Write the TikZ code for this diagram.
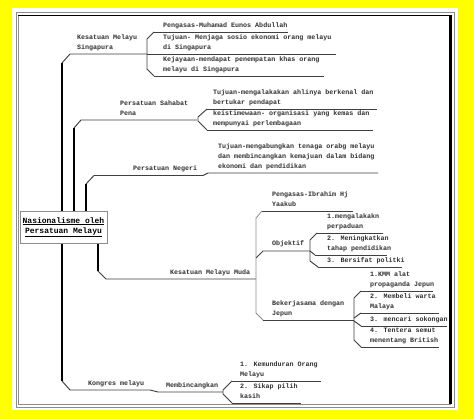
\documentclass[tikz,border=0pt]{standalone}
\usepackage{fontspec}
\newfontfamily\monof{Liberation Mono}
\newcommand\tfont{\monof\bfseries\fontsize{6.67}{10}\selectfont}
\newcommand\cfont{\monof\bfseries\fontsize{8}{10}\selectfont}
\definecolor{bgyellow}{HTML}{FFFF00}
\definecolor{linec}{HTML}{404040}
\definecolor{subc}{HTML}{8C8C8C}
\definecolor{textc}{HTML}{303030}
\tikzset{
  txt/.style={inner sep=0pt, anchor=south west, align=left, font=\tfont, text=textc, execute at end node=\strut},
  trunk/.style={line width=2.6pt, black},
  br/.style={line width=0.95pt, color=linec, line join=round},
  sub/.style={line width=0.8pt, color=subc},
  central/.style={draw=subc, line width=0.8pt, fill=white, font=\cfont, align=center, inner sep=0pt, minimum width=87pt, minimum height=32pt}
}
\begin{document}
\begin{tikzpicture}[x=1pt,y=-1pt]
\useasboundingbox (0,0) rectangle (474,419);
% frame
\fill[bgyellow] (0,0) rectangle (474,419);
\fill[white] (12,8) rectangle (458,410);
\draw[subc, line width=0.6pt] (16,12) rectangle (454,407);
\fill[white] (18,15) rectangle (451,404);
\draw[subc, line width=0.8pt] (18,15) -- (18,404) -- (451,404);
\draw[black, line width=1.6pt] (18,15.5) -- (451,15.5);
\draw[black, line width=3pt] (450.5,15) -- (450.5,404);

% branch 1: Kesatuan Melayu Singapura
\draw[trunk] (62,212) -- (62,63);
\draw[br] (62,63) -- (70,54) -- (147,54);
\draw[br] (154,32) -- (147,39) -- (147,69) -- (154,76);
\draw[br] (154,32) -- (288,32);
\draw[br] (147,54) -- (336,54);
\draw[br] (154,76) -- (324,76);
\node[txt] (k1) at (77,53) {Kesatuan Melayu\\Singapura};
\node[txt] (k1a) at (163,31) {Pengasas-Muhamad Eunos Abdullah};
\node[txt] (k1b) at (163,53) {Tujuan- Menjaga sosio ekonomi orang melayu\\di Singapura};
\node[txt] (k1c) at (163,75) {Kejayaan-mendapat penempatan khas orang\\melayu di Singapura};

% branch 2: Persatuan Sahabat Pena
\draw[trunk] (74,212) -- (74,128);
\draw[br] (74,128) -- (81,120) -- (197,120);
\draw[br] (207,109) -- (198,117) -- (198,121) -- (207,130);
\draw[br] (207,109) -- (377,109);
\draw[br] (207,130) -- (373,130);
\node[txt] (k2) at (120,119) {Persatuan Sahabat\\Pena};
\node[txt] (k2a) at (213,108) {Tujuan-mengalakakan ahlinya berkenal dan\\bertukar pendapat};
\node[txt] (k2b) at (213,129) {keistimewaan- organisasi yang kemas dan\\mempunyai perlembagaan};

% branch 3: Persatuan Negeri
\draw[trunk] (86,212) -- (86,184);
\draw[br] (86,184) -- (94,175.5) -- (203,175.5) -- (208,173) -- (378,173);
\node[txt] (k3) at (133,174) {Persatuan Negeri};
\node[txt] (k3a) at (218,172) {Tujuan-mengabungkan tenaga orabg melayu\\dan membincangkan kemajuan dalam bidang\\ekonomi dan pendidikan};

% branch 4: Kesatuan Melayu Muda
\draw[trunk] (98,242) -- (98,271);
\draw[br] (98,271) -- (106,279) -- (256,279);
\draw[sub] (262,211) -- (256,218) -- (256,313) -- (263,320);
\draw[br] (262,211) -- (353,211);
\draw[br] (256,258) -- (263,251) -- (310,251);
\draw[br] (263,320) -- (354,320);
\node[txt] (k4) at (170,278) {Kesatuan Melayu Muda};
\node[txt] (k4a) at (272,210) {Pengasas-Ibrahim Hj\\Yaakub};
\node[txt] (k4b) at (272,249) {Objektif};
\node[txt] (k4c) at (272,319) {Bekerjasama dengan\\Jepun};
% Objektif children
\draw[br] (317,233) -- (310,240) -- (310,261) -- (318,267);
\draw[br] (310,251) -- (315,255);
\draw[br] (317,233) -- (383,233);
\draw[br] (315,255) -- (387,255);
\draw[br] (318,267) -- (402,267);
\node[txt] (k4b1) at (327,232) {1.mengalakakn\\perpaduan};
\node[txt] (k4b2) at (327,254) {2. Meningkatkan\\tahap pendidikan};
\node[txt] (k4b3) at (327,266) {3. Bersifat politki};
% Bekerjasama children
\draw[br] (361,291) -- (354,298) -- (354,340) -- (361,347);
\draw[br] (354,318) -- (361,313);
\draw[br] (354,321) -- (361,326);
\draw[br] (361,291) -- (433,291);
\draw[br] (361,313) -- (439,313);
\draw[br] (361,326) -- (447,326);
\draw[br] (361,347) -- (439,347);
\node[txt] (k4c1) at (370,290) {1.KMM alat\\propaganda Jepun};
\node[txt] (k4c2) at (370,312) {2. Membeli warta\\Malaya};
\node[txt] (k4c3) at (370,325) {3. mencari sokongan};
\node[txt] (k4c4) at (370,346) {4. Tentera semut\\menentang British};

% branch 5: Kongres melayu
\draw[trunk] (62,242) -- (62,381);
\draw[br] (62,381) -- (70,390) -- (150,390) -- (158,392) -- (223,392);
\draw[br] (232,381) -- (223,390) -- (223,394) -- (232,403);
\draw[br] (232,381) -- (321,381);
\draw[br] (232,403) -- (301,403);
\node[txt] (k5) at (88,389) {Kongres melayu};
\node[txt] (k5a) at (166,391) {Membincangkan};
\node[txt] (k5a1) at (240,380) {1. Kemunduran Orang\\Melayu};
\node[txt] (k5a2) at (240,402) {2. Sikap pilih\\kasih};

% central
\node[central] (c) at (63.5,227) {\underline{Nasionalisme oleh}\\\underline{Persatuan Melayu}};
\end{tikzpicture}
\end{document}
